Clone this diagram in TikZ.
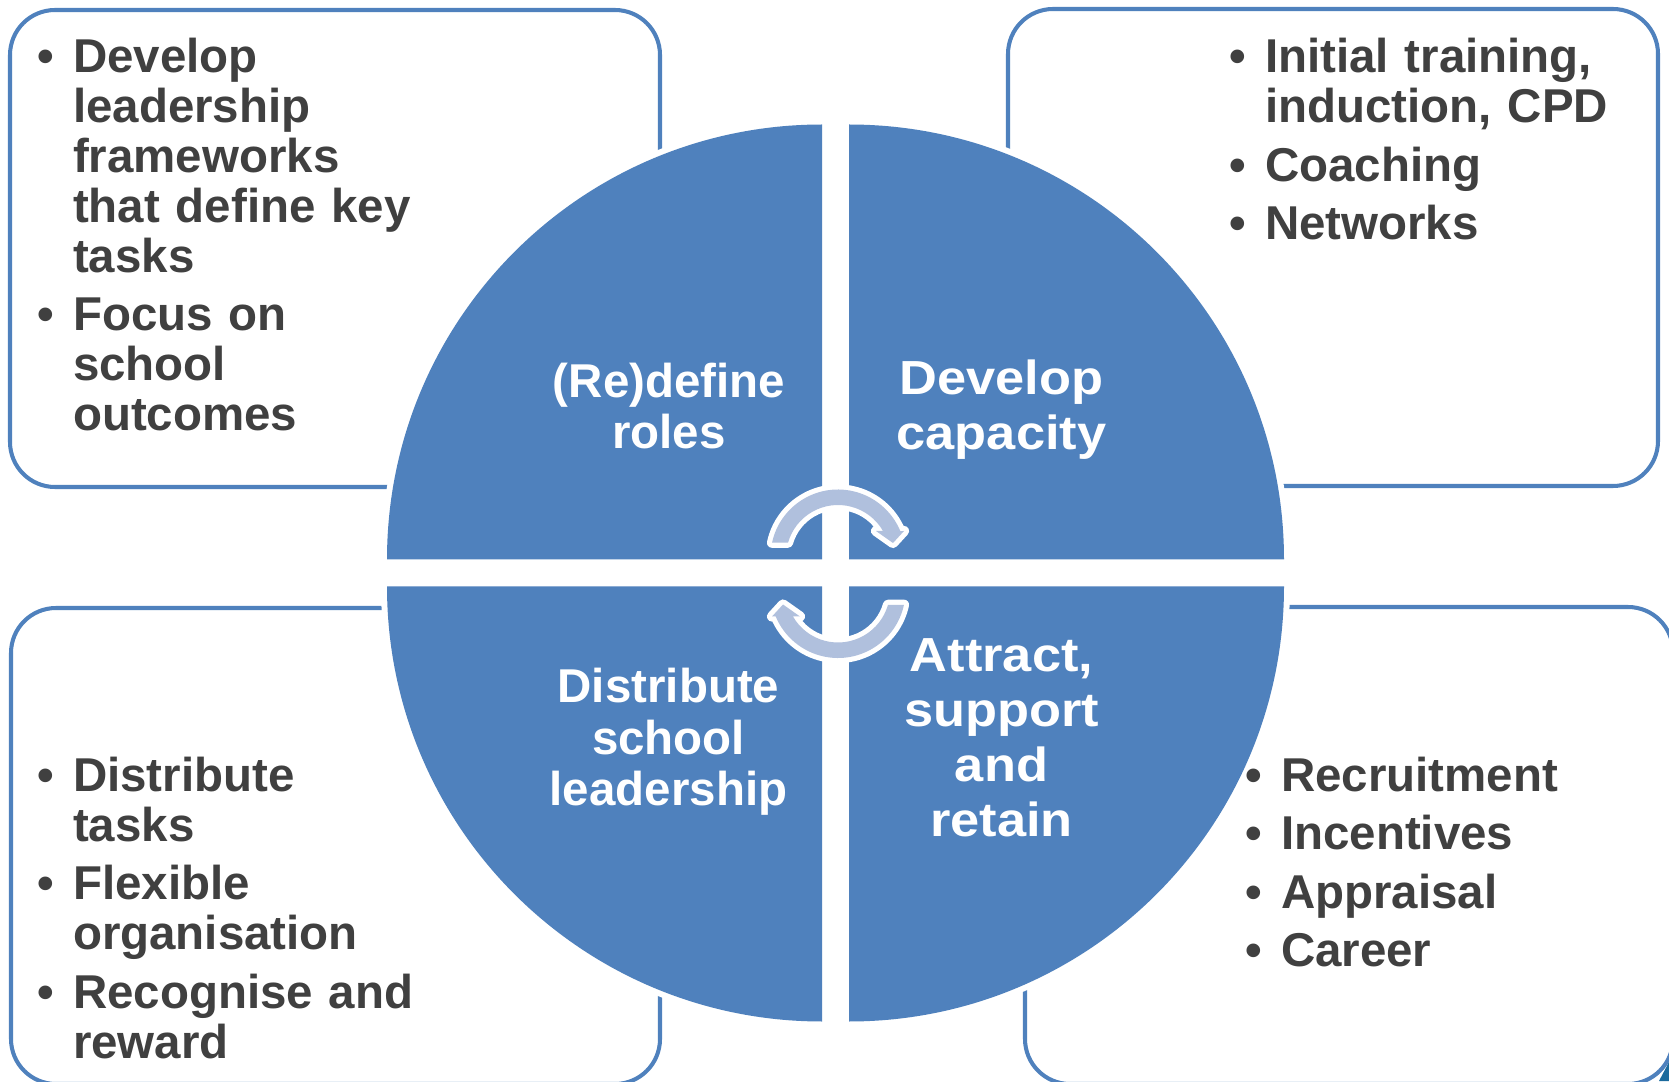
\documentclass[tikz,border=0pt]{standalone}
\usepackage{fontspec}
\setmainfont{Liberation Sans}
\newfontfamily\widesans[FakeStretch=1.095]{Liberation Sans}
\definecolor{quadblue}{HTML}{4F81BD}
\definecolor{arrowfill}{HTML}{B0C0DD}
\definecolor{listgray}{HTML}{404040}
\definecolor{cornerteal}{HTML}{1B6A9C}
\newcommand{\bitem}[1]{\setlength{\parskip}{2.4pt}\hangindent=10.2pt\hangafter=1\noindent\hbox to 10.2pt{\textbullet\hss}#1\par}

\begin{document}
\begin{tikzpicture}[x=0.01cm, y=0.01cm,
    box/.style={draw=quadblue, line width=1.15pt, fill=white, rounded corners=0.45cm},
    quad/.style={fill=quadblue, preaction={draw=white, line width=3.4pt}},
    arrowband/.style={fill=arrowfill, preaction={draw=white, line width=2.9pt, line join=round}},
    cyclearrow/.pic={
        \path[arrowband] (167.8:67.5) arc[start angle=167.8, end angle=22.65, radius=67.5]
            -- (66,26) -- (55,14) -- (38,26) -- (30:52) arc[start angle=30, end angle=164, radius=52] -- cycle;
    },
    quadtext/.style={text=white, text width=3.6cm, align=center, inner sep=0pt, anchor=base,
        font=\bfseries\fontsize{13.5pt}{14.6pt}\selectfont},
    quadtextwide/.style={quadtext, font=\widesans\bfseries\fontsize{13.6pt}{15.6pt}\selectfont},
    listtext/.style={text=listgray, text width=7cm, inner sep=0pt, anchor=base west,
        font=\bfseries\fontsize{13.5pt}{14.2pt}\selectfont}]
    \clip (0,0) rectangle (1669,1081);

    % boxes behind the circle
    \draw[box] (10,594) rectangle (660,1071);
    \draw[box] (1008,595) rectangle (1658,1072);
    \draw[box] (11,-3) rectangle (660,473);
    \draw[box] (1025,-3) rectangle (1673,474);
    \fill[cornerteal] (1659,0) -- (1669,19) -- (1669,0) -- cycle;

    % four quarters
    \path[quad] (822,521.5) -- ++(-435,0) arc[start angle=180, end angle=90, radius=435] -- cycle;
    \path[quad] (849,521.5) -- ++(0,435) arc[start angle=90, end angle=0, radius=435] -- cycle;
    \path[quad] (849,494.5) -- ++(435,0) arc[start angle=0, end angle=-90, radius=435] -- cycle;
    \path[quad] (822,494.5) -- ++(0,-435) arc[start angle=270, end angle=180, radius=435] -- cycle;

    \node[quadtext] (roles) at (669,683.7) {(Re)define\\roles};
    \node[quadtextwide] (capacity) at (1001.5,686) {Develop\\capacity};
    \node[quadtextwide] (attract) at (1001.5,409.3) {Attract,\\support\\and\\retain};
    \node[quadtext] (distribute) at (668.5,378.3) {Distribute\\school\\leadership};

    \node[listtext] (rolesList) at (36.5,1008.3) {\bitem{Develop\newline leadership\newline frameworks\newline that define key\newline tasks}\bitem{Focus on\newline school\newline outcomes}};
    \node[listtext] (capacityList) at (1228.5,1008.3) {\bitem{Initial training,\newline induction, CPD}\bitem{Coaching}\bitem{Networks}};
    \node[listtext] (distributeList) at (36.5,289.5) {\bitem{Distribute\newline tasks}\bitem{Flexible\newline organisation}\bitem{Recognise and\newline reward}};
    \node[listtext] (attractList) at (1244.5,289.5) {\bitem{Recruitment}\bitem{Incentives}\bitem{Appraisal}\bitem{Career}};

    % cycle arrows in the middle
    \pic (topArrow) at (838,524) {cyclearrow};
    \pic[rotate=180] (bottomArrow) at (838,490.5) {cyclearrow};
\end{tikzpicture}
\end{document}
